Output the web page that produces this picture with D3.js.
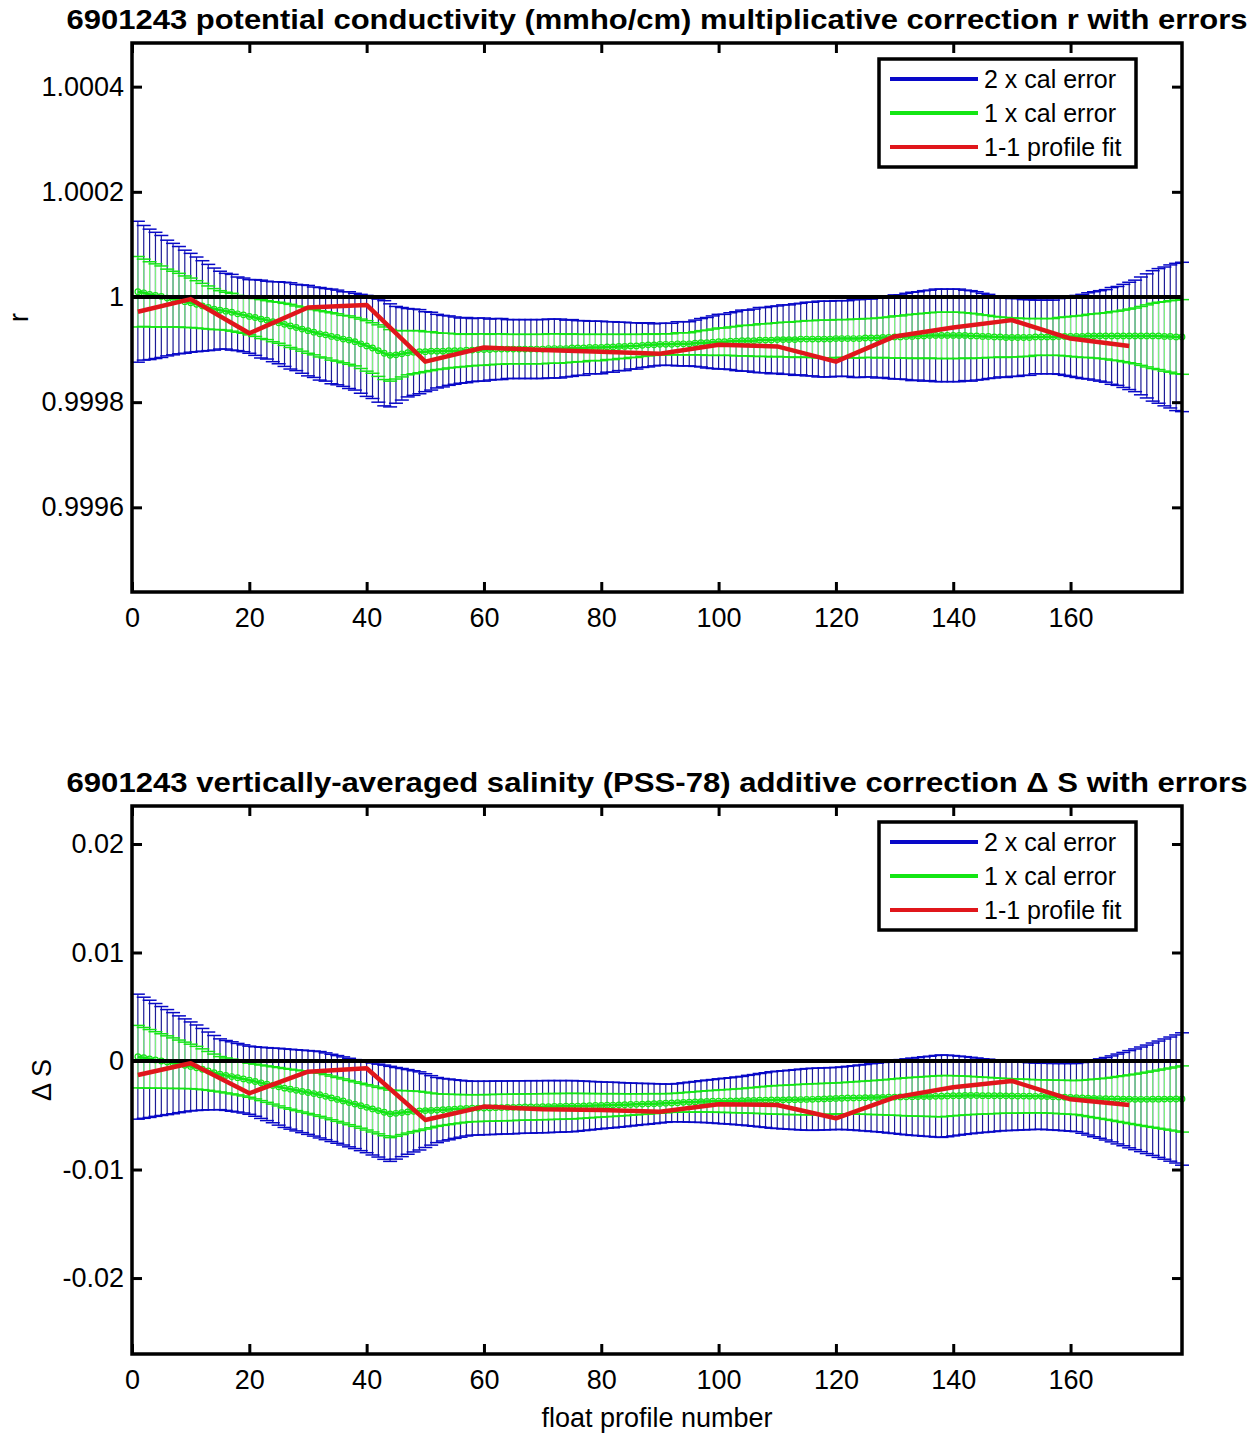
<!DOCTYPE html>
<html>
<head>
<meta charset="utf-8">
<script src="https://cdn.jsdelivr.net/npm/d3@7"></script>
<style>
    body { margin: 0; background: #fff; }
    svg text { font-family: "Liberation Sans", Arial, sans-serif; fill: #000; }
</style>
</head>
<body>
<svg id="chart" width="1260" height="1435"></svg>
<script>
// profile numbers on the x axis
const profiles = d3.range(1, 180);
const xTicks = [0, 20, 40, 60, 80, 100, 120, 140, 160];

// conductivity ratio r: calibration fit and 1 x cal error, stored as (r - 1) in units of 1e-4
const R_UNIT = 1e-4;
const rFitDev = [
    0.10, 0.08, 0.05, 0.03, 0.01, -0.02, -0.04, -0.06, -0.09, -0.11,
    -0.14, -0.17, -0.20, -0.23, -0.25, -0.27, -0.29, -0.32, -0.34, -0.37,
    -0.39, -0.42, -0.44, -0.47, -0.49, -0.52, -0.55, -0.58, -0.61, -0.64,
    -0.67, -0.70, -0.72, -0.75, -0.77, -0.80, -0.82, -0.85, -0.89, -0.93,
    -0.97, -1.02, -1.07, -1.11, -1.10, -1.08, -1.06, -1.05, -1.04, -1.04,
    -1.03, -1.03, -1.03, -1.02, -1.02, -1.02, -1.01, -1.01, -1.00, -1.00,
    -1.00, -0.99, -0.99, -0.99, -0.99, -0.99, -0.99, -0.99, -0.99, -0.99,
    -0.98, -0.98, -0.98, -0.98, -0.97, -0.97, -0.97, -0.96, -0.96, -0.96,
    -0.95, -0.95, -0.94, -0.94, -0.93, -0.93, -0.92, -0.91, -0.91, -0.90,
    -0.90, -0.90, -0.89, -0.89, -0.89, -0.88, -0.87, -0.87, -0.86, -0.85,
    -0.85, -0.84, -0.84, -0.83, -0.83, -0.83, -0.82, -0.82, -0.82, -0.81,
    -0.81, -0.81, -0.81, -0.80, -0.80, -0.80, -0.80, -0.80, -0.80, -0.79,
    -0.79, -0.79, -0.79, -0.79, -0.78, -0.78, -0.78, -0.77, -0.77, -0.76,
    -0.76, -0.75, -0.75, -0.74, -0.74, -0.73, -0.73, -0.73, -0.73, -0.73,
    -0.73, -0.73, -0.74, -0.74, -0.75, -0.75, -0.76, -0.76, -0.77, -0.77,
    -0.77, -0.77, -0.77, -0.76, -0.76, -0.76, -0.76, -0.75, -0.75, -0.75,
    -0.75, -0.75, -0.74, -0.74, -0.74, -0.74, -0.74, -0.74, -0.74, -0.74,
    -0.74, -0.74, -0.74, -0.74, -0.74, -0.75, -0.75, -0.76, -0.76
];
const rErr = [
    0.67, 0.64, 0.62, 0.60, 0.58, 0.55, 0.53, 0.51, 0.49, 0.47,
    0.45, 0.43, 0.41, 0.39, 0.37, 0.36, 0.36, 0.35, 0.35, 0.35,
    0.36, 0.37, 0.37, 0.38, 0.39, 0.40, 0.41, 0.41, 0.42, 0.43,
    0.43, 0.44, 0.44, 0.45, 0.45, 0.45, 0.46, 0.46, 0.47, 0.48,
    0.48, 0.49, 0.50, 0.49, 0.46, 0.44, 0.42, 0.41, 0.40, 0.38,
    0.37, 0.35, 0.34, 0.33, 0.32, 0.31, 0.31, 0.30, 0.30, 0.30,
    0.29, 0.29, 0.29, 0.28, 0.28, 0.28, 0.28, 0.28, 0.28, 0.28,
    0.28, 0.28, 0.28, 0.27, 0.27, 0.26, 0.26, 0.25, 0.25, 0.25,
    0.24, 0.24, 0.23, 0.23, 0.22, 0.22, 0.21, 0.21, 0.20, 0.20,
    0.20, 0.20, 0.21, 0.21, 0.21, 0.22, 0.23, 0.24, 0.25, 0.26,
    0.26, 0.27, 0.28, 0.29, 0.29, 0.30, 0.31, 0.31, 0.32, 0.32,
    0.33, 0.33, 0.34, 0.34, 0.35, 0.35, 0.36, 0.36, 0.36, 0.36,
    0.36, 0.36, 0.37, 0.37, 0.37, 0.37, 0.38, 0.38, 0.39, 0.40,
    0.40, 0.41, 0.42, 0.42, 0.43, 0.43, 0.44, 0.44, 0.44, 0.44,
    0.44, 0.43, 0.43, 0.42, 0.41, 0.40, 0.39, 0.38, 0.38, 0.37,
    0.37, 0.36, 0.36, 0.35, 0.35, 0.35, 0.35, 0.36, 0.37, 0.38,
    0.39, 0.40, 0.41, 0.42, 0.43, 0.44, 0.46, 0.47, 0.49, 0.51,
    0.53, 0.56, 0.59, 0.62, 0.64, 0.66, 0.68, 0.70, 0.71
];
// 1-1 profile fit (red)
const profileFitX = [1, 10, 20, 30, 40, 50, 60, 70, 80, 90, 100, 110, 120, 130, 140, 150, 160, 170];
const rProfileFitDev = [-0.28, -0.04, -0.69, -0.20, -0.15, -1.23, -0.96, -1.01, -1.04, -1.08,
    -0.91, -0.94, -1.23, -0.75, -0.58, -0.44, -0.79, -0.93];
const rTicks = [0.9996, 0.9998, 1, 1.0002, 1.0004];
const rTickLabels = ["0.9996", "0.9998", "1", "1.0002", "1.0004"];

// salinity offset delta S, in units of 1e-3
const S_UNIT = 1e-3;
const dsFit = [
    0.40, 0.30, 0.20, 0.10, 0.00, -0.10, -0.20, -0.30, -0.40, -0.50,
    -0.62, -0.76, -0.91, -1.07, -1.22, -1.33, -1.43, -1.54, -1.65, -1.77,
    -1.89, -2.01, -2.13, -2.25, -2.37, -2.50, -2.60, -2.70, -2.80, -2.90,
    -3.00, -3.11, -3.25, -3.40, -3.54, -3.68, -3.83, -3.97, -4.12, -4.27,
    -4.42, -4.57, -4.72, -4.87, -4.82, -4.75, -4.69, -4.64, -4.60, -4.57,
    -4.55, -4.52, -4.49, -4.46, -4.43, -4.40, -4.37, -4.35, -4.34, -4.33,
    -4.32, -4.30, -4.29, -4.28, -4.27, -4.25, -4.24, -4.23, -4.22, -4.21,
    -4.20, -4.19, -4.18, -4.17, -4.16, -4.15, -4.13, -4.12, -4.10, -4.09,
    -4.07, -4.06, -4.04, -4.03, -4.01, -3.99, -3.97, -3.95, -3.93, -3.91,
    -3.89, -3.86, -3.84, -3.81, -3.79, -3.77, -3.74, -3.72, -3.71, -3.70,
    -3.69, -3.68, -3.67, -3.66, -3.64, -3.63, -3.61, -3.60, -3.59, -3.58,
    -3.58, -3.57, -3.56, -3.55, -3.54, -3.53, -3.51, -3.49, -3.47, -3.45,
    -3.43, -3.41, -3.40, -3.39, -3.38, -3.37, -3.36, -3.35, -3.34, -3.32,
    -3.31, -3.30, -3.29, -3.28, -3.27, -3.26, -3.25, -3.24, -3.22, -3.20,
    -3.19, -3.18, -3.18, -3.18, -3.19, -3.19, -3.20, -3.20, -3.21, -3.22,
    -3.23, -3.23, -3.24, -3.25, -3.25, -3.27, -3.29, -3.31, -3.33, -3.35,
    -3.37, -3.40, -3.42, -3.44, -3.46, -3.48, -3.49, -3.50, -3.51, -3.52,
    -3.53, -3.53, -3.53, -3.52, -3.52, -3.51, -3.51, -3.50, -3.50
];
const dsErr = [
    2.88, 2.79, 2.70, 2.60, 2.51, 2.42, 2.33, 2.23, 2.14, 2.05,
    1.97, 1.88, 1.79, 1.71, 1.63, 1.61, 1.60, 1.58, 1.57, 1.57,
    1.60, 1.64, 1.68, 1.72, 1.77, 1.81, 1.84, 1.87, 1.90, 1.93,
    1.96, 1.99, 2.00, 2.01, 2.02, 2.03, 2.04, 2.05, 2.07, 2.09,
    2.12, 2.14, 2.17, 2.19, 2.11, 2.03, 1.95, 1.87, 1.80, 1.70,
    1.60, 1.50, 1.44, 1.40, 1.35, 1.31, 1.27, 1.24, 1.24, 1.23,
    1.23, 1.23, 1.22, 1.22, 1.22, 1.21, 1.21, 1.21, 1.20, 1.20,
    1.20, 1.19, 1.19, 1.18, 1.18, 1.16, 1.14, 1.12, 1.10, 1.08,
    1.06, 1.05, 1.03, 1.01, 0.99, 0.97, 0.95, 0.94, 0.92, 0.90,
    0.88, 0.87, 0.88, 0.90, 0.92, 0.94, 0.96, 0.98, 1.00, 1.03,
    1.05, 1.07, 1.10, 1.12, 1.16, 1.19, 1.23, 1.26, 1.30, 1.32,
    1.34, 1.36, 1.38, 1.40, 1.42, 1.43, 1.43, 1.43, 1.43, 1.43,
    1.44, 1.46, 1.48, 1.51, 1.53, 1.56, 1.58, 1.61, 1.65, 1.68,
    1.72, 1.75, 1.78, 1.80, 1.83, 1.85, 1.88, 1.90, 1.88, 1.85,
    1.82, 1.79, 1.76, 1.73, 1.70, 1.68, 1.65, 1.62, 1.60, 1.59,
    1.57, 1.56, 1.54, 1.53, 1.52, 1.53, 1.53, 1.54, 1.55, 1.56,
    1.57, 1.63, 1.70, 1.77, 1.83, 1.90, 1.98, 2.07, 2.15, 2.24,
    2.32, 2.41, 2.50, 2.59, 2.68, 2.77, 2.86, 2.95, 3.05
];
const dsProfileFit = [-1.29, -0.21, -2.97, -0.98, -0.67, -5.43, -4.20, -4.45, -4.51, -4.67,
    -3.99, -4.05, -5.28, -3.35, -2.42, -1.84, -3.53, -4.05];
const dsTicks = [-0.02, -0.01, 0, 0.01, 0.02];
const dsTickLabels = ["-0.02", "-0.01", "0", "0.01", "0.02"];

const legendLabels = ["2 x cal error", "1 x cal error", "1-1 profile fit"];

const COLORS = {
    blueStem: "#1c1c96", blueCap: "#0808c8",
    green: "#14e614", greenStem: "#7ef07e",
    red: "#e0161b", black: "#000"
};

const svg = d3.select("#chart");

const panels = [
    {
        title: "6901243 potential conductivity (mmho/cm) multiplicative correction r with errors",
        ylabel: "r", ylabelX: 28,
        top: 43, bottom: 592,
        yDomain: [0.999439, 1.000483],
        ref: 1,
        fit: rFitDev.map(d => 1 + d * R_UNIT),
        err: rErr.map(d => d * R_UNIT),
        pfit: rProfileFitDev.map(d => 1 + d * R_UNIT),
        ticks: rTicks, tickLabels: rTickLabels
    },
    {
        title: "6901243 vertically-averaged salinity (PSS-78) additive correction \u0394 S with errors",
        ylabel: "\u0394 S", ylabelX: 51,
        top: 806, bottom: 1354,
        yDomain: [-0.0270, 0.0235],
        ref: 0,
        fit: dsFit.map(d => d * S_UNIT),
        err: dsErr.map(d => d * S_UNIT),
        pfit: dsProfileFit.map(d => d * S_UNIT),
        ticks: dsTicks, tickLabels: dsTickLabels
    }
];

const left = 132, right = 1182;

panels.forEach(p => drawPanel(p));

function drawPanel(p) {
    let g = svg.append("g");

    let x = d3.scaleLinear().domain([0, 179]).range([left, right]);
    let y = d3.scaleLinear().domain(p.yDomain).range([p.bottom, p.top]);

    let pts = profiles.map((n, i) => ({ n: n, c: p.fit[i], e: p.err[i] }));
    let cap = 7;

    // error bars: blue = 2 x cal error, green = 1 x cal error
    drawErrorbars(g, pts, x, y, 2, COLORS.blueStem, COLORS.blueCap, 1.2, cap);

    let centerLine = d3.line().x(d => x(d.n)).y(d => y(d.c));
    g.append("path")
        .attr("d", centerLine(pts))
        .style("fill", "none")
        .style("stroke", COLORS.blueCap)
        .style("stroke-width", 1.5);

    drawErrorbars(g, pts, x, y, 1, COLORS.greenStem, COLORS.green, 1.2, cap);

    g.append("path")
        .attr("d", centerLine(pts))
        .style("fill", "none")
        .style("stroke", COLORS.green)
        .style("stroke-width", 2.5);
    g.append("g").selectAll("circle")
        .data(pts).enter()
        .append("circle")
        .attr("cx", d => x(d.n))
        .attr("cy", d => y(d.c))
        .attr("r", 2.8)
        .style("fill", "none")
        .style("stroke", COLORS.green)
        .style("stroke-width", 1.2);

    // reference line
    g.append("line")
        .attr("x1", x(0)).attr("x2", x(179))
        .attr("y1", y(p.ref)).attr("y2", y(p.ref))
        .style("stroke", COLORS.black)
        .style("stroke-width", 4);

    // 1-1 profile fit
    let redLine = d3.line().x(d => x(d[0])).y(d => y(d[1]));
    g.append("path")
        .attr("d", redLine(profileFitX.map((n, i) => [n, p.pfit[i]])))
        .style("fill", "none")
        .style("stroke", COLORS.red)
        .style("stroke-width", 4.5)
        .style("stroke-linejoin", "round");

    // axes
    let xAxis = g.append("g")
        .attr("transform", "translate(0," + p.bottom + ")")
        .call(d3.axisBottom(x).tickValues(xTicks).tickSizeInner(-10).tickSizeOuter(0).tickPadding(16));
    let xAxisTop = g.append("g")
        .attr("transform", "translate(0," + p.top + ")")
        .call(d3.axisTop(x).tickValues(xTicks).tickSizeInner(-10).tickSizeOuter(0).tickFormat(""));
    let yAxis = g.append("g")
        .attr("transform", "translate(" + left + ",0)")
        .call(d3.axisLeft(y).tickValues(p.ticks).tickSizeInner(-10).tickSizeOuter(0).tickPadding(8)
            .tickFormat((d, i) => p.tickLabels[i]));
    let yAxisRight = g.append("g")
        .attr("transform", "translate(" + right + ",0)")
        .call(d3.axisRight(y).tickValues(p.ticks).tickSizeInner(-10).tickSizeOuter(0).tickFormat(""));

    [xAxis, xAxisTop, yAxis, yAxisRight].forEach(a => {
        a.select(".domain").remove();
        a.selectAll(".tick line").style("stroke", "#000").style("stroke-width", 3);
        a.selectAll("text")
            .style("font-size", "27px")
            .style("font-family", "'Liberation Sans', Arial, sans-serif")
            .style("fill", "#000");
    });

    g.append("rect")
        .attr("x", left).attr("y", p.top)
        .attr("width", right - left).attr("height", p.bottom - p.top)
        .style("fill", "none")
        .style("stroke", "#000")
        .style("stroke-width", 3.5);

    // title and labels
    g.append("text")
        .attr("x", (left + right) / 2)
        .attr("y", p.top - 14)
        .attr("text-anchor", "middle")
        .attr("textLength", 1181)
        .attr("lengthAdjust", "spacingAndGlyphs")
        .style("font-size", "27px")
        .style("font-weight", "bold")
        .text(p.title);

    g.append("text")
        .attr("transform", "translate(" + p.ylabelX + "," + ((p.top + p.bottom) / 2) + ") rotate(-90)")
        .attr("text-anchor", "middle")
        .style("font-size", "27px")
        .text(p.ylabel);

    // legend
    let lg = g.append("g").attr("transform", "translate(" + (right - 303) + "," + (p.top + 16) + ")");
    lg.append("rect")
        .attr("width", 257).attr("height", 108)
        .style("fill", "#fff")
        .style("stroke", "#000")
        .style("stroke-width", 3.5);
    let legendColors = [COLORS.blueCap, COLORS.green, COLORS.red];
    legendLabels.forEach((lab, i) => {
        let ly = 20 + i * 34;
        lg.append("line")
            .attr("x1", 11).attr("x2", 99)
            .attr("y1", ly).attr("y2", ly)
            .style("stroke", legendColors[i])
            .style("stroke-width", 4);
        lg.append("text")
            .attr("x", 105).attr("y", ly + 9)
            .style("font-size", "25px")
            .text(lab);
    });
}

function drawErrorbars(g, pts, x, y, k, stemColor, capColor, sw, cap) {
    let eg = g.append("g");
    eg.selectAll(".stem")
        .data(pts).enter()
        .append("line")
        .attr("class", "stem")
        .attr("x1", d => x(d.n)).attr("x2", d => x(d.n))
        .attr("y1", d => y(d.c - k * d.e))
        .attr("y2", d => y(d.c + k * d.e))
        .style("stroke", stemColor)
        .style("stroke-width", sw);
    [-1, 1].forEach(s => {
        eg.selectAll(".cap" + (s + 1))
            .data(pts).enter()
            .append("line")
            .attr("class", "cap" + (s + 1))
            .attr("x1", d => x(d.n) - cap).attr("x2", d => x(d.n) + cap)
            .attr("y1", d => y(d.c + s * k * d.e))
            .attr("y2", d => y(d.c + s * k * d.e))
            .style("stroke", capColor)
            .style("stroke-width", 1.5);
    });
}

// x axis label for the lower panel
svg.append("text")
    .attr("x", (left + right) / 2)
    .attr("y", 1427)
    .attr("text-anchor", "middle")
    .style("font-size", "27px")
    .text("float profile number");
</script>
</body>
</html>
